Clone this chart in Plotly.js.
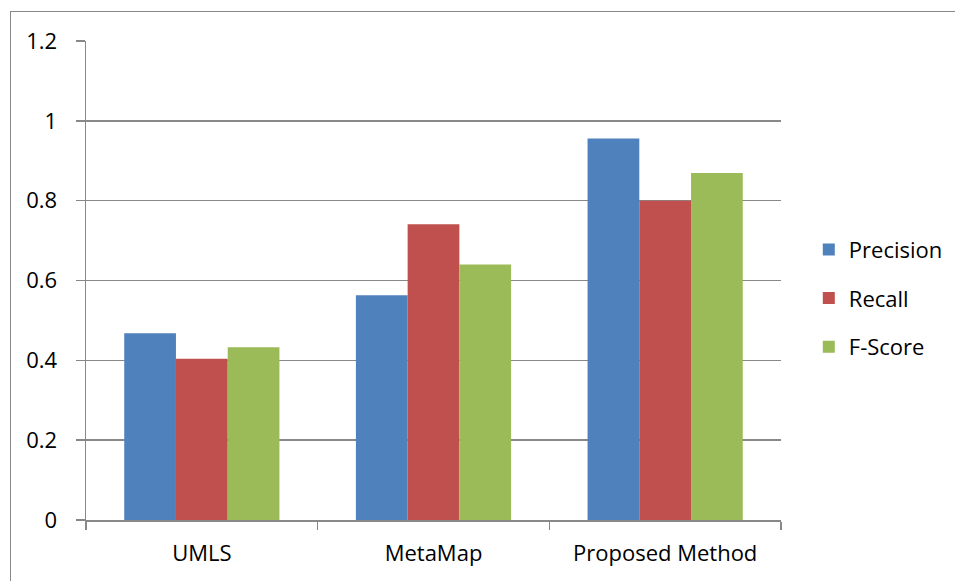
<!DOCTYPE html>
<html>
<head>
<meta charset="utf-8">
<script src="https://cdn.plot.ly/plotly-3.0.1.min.js"></script>
<style>
html,body{margin:0;padding:0;background:#fff;}
#chart{width:955px;height:581px;position:relative;}
#frame{position:absolute;left:10px;top:11px;width:960px;height:600px;border-left:1.5px solid #888;border-top:1.5px solid #888;pointer-events:none;}
</style>
</head>
<body>
<div id="chart"></div>
<div id="frame"></div>
<script>
const categories = ["UMLS", "MetaMap", "Proposed Method"];
const precision = [0.468, 0.563, 0.956];
const recall = [0.404, 0.741, 0.800];
const fscore = [0.433, 0.640, 0.869];
const seriesNames = ["Precision", "Recall", "F-Score"];
const colors = ["#4F81BD", "#C0504D", "#9BBB59"];
const values = [precision, recall, fscore];

const font = "'Open Sans', Lato, sans-serif";
const traces = values.map((v, i) => ({
  type: "bar",
  x: categories,
  y: v,
  name: seriesNames[i],
  legendgroup: "g" + i,
  marker: {color: colors[i], line: {width: 0}}
}));

const layout = {
  width: 955, height: 581,
  margin: {l: 86, r: 174, t: 41, b: 61, autoexpand: false},
  paper_bgcolor: "#fff", plot_bgcolor: "#fff",
  barmode: "group", bargap: 0.33, bargroupgap: 0,
  font: {family: font, size: 22, color: "#000"},
  xaxis: {
    showline: true, linecolor: "#888", linewidth: 1.5,
    ticks: "outside", tickson: "boundaries", ticklen: 8, tickcolor: "#888", tickwidth: 1.5,
    ticklabelstandoff: 13,
    tickfont: {family: font, size: 22, color: "#000"}
  },
  yaxis: {
    range: [0, 1.2], tickvals: [0, 0.2, 0.4, 0.6, 0.8, 1, 1.2],
    ticktext: ["0", "0.2", "0.4", "0.6", "0.8", "1", "1.2"],
    showgrid: true, gridcolor: "#888", gridwidth: 1.5,
    showline: true, linecolor: "#888", linewidth: 1.5,
    ticks: "outside", ticklen: 9, tickcolor: "#888", tickwidth: 1.5,
    ticklabelstandoff: 14, zeroline: false,
    tickfont: {family: font, size: 22, color: "#000"}
  },
  showlegend: true,
  legend: {
    x: 1.04, xanchor: "left", y: 0.463, yanchor: "middle",
    font: {family: font, size: 22, color: "#000"},
    tracegroupgap: 17, itemwidth: 30, traceorder: "grouped"
  }
};

Plotly.newPlot("chart", traces, layout, {displayModeBar: false, staticPlot: true});
</script>
</body>
</html>
